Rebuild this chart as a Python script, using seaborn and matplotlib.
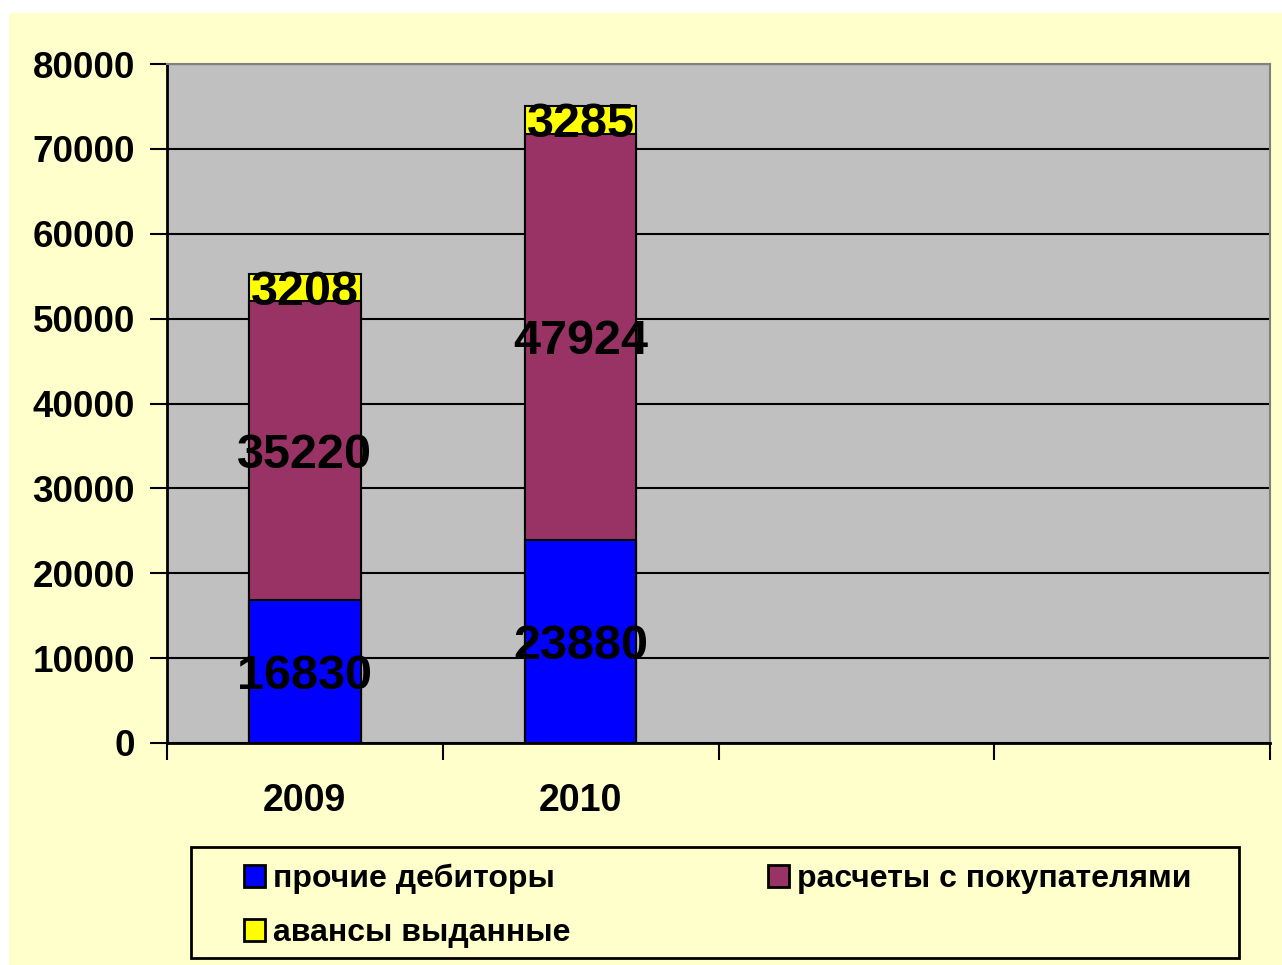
import matplotlib
matplotlib.use("Agg")
import matplotlib.pyplot as plt
import matplotlib.patches as mpatches
import seaborn as sns
import pandas as pd
import numpy as np

# ---- data ----
categories = ["2009", "2010", "c3", "c4"]
tick_labels = ["2009", "2010", "", ""]
series_names = ["прочие дебиторы", "расчеты с покупателями", "авансы выданные"]
prochie = [16830, 23880]
raschety = [35220, 47924]
avansy = [3208, 3285]
years = ["2009", "2010"]
colors = ["#0000FF", "#993366", "#FFFF00"]

sns.set_theme(style="white")
plt.rcParams["font.family"] = ["Liberation Sans", "DejaVu Sans"]
plt.rcParams["font.weight"] = "bold"
plt.rcParams["text.color"] = "black"
plt.rcParams["xtick.color"] = "black"
plt.rcParams["ytick.color"] = "black"

W, H = 1282, 965
fig = plt.figure(figsize=(W / 100, H / 100), dpi=100)
fig.patch.set_facecolor("white")
fig.patches.append(mpatches.Rectangle((9 / W, 0), 1 - 9 / W, 1 - 13 / H,
                                      transform=fig.transFigure, facecolor="#FFFFCC",
                                      edgecolor="none", zorder=-10))
# legend box
fig.patches.append(mpatches.Rectangle((191 / W, 1 - 958 / H), (1239 - 191) / W, (958 - 847) / H,
                                      transform=fig.transFigure, facecolor="none",
                                      edgecolor="black", linewidth=2, zorder=-5))

left, right, top, bottom = 167, 1270, 64, 743
ax = fig.add_axes([left / W, 1 - bottom / H, (right - left) / W, (bottom - top) / H])
ax.set_facecolor("#C0C0C0")

df = pd.DataFrame({"year": years, "p": prochie, "r": raschety, "a": avansy})
df["lvl1"] = df["p"]
df["lvl2"] = df["p"] + df["r"]
df["lvl3"] = df["p"] + df["r"] + df["a"]

for col, c in zip(["lvl3", "lvl2", "lvl1"], colors[::-1]):
    sns.barplot(data=df, x="year", y=col, order=categories, color=c, saturation=1,
                width=0.405, errorbar=None, edgecolor="black", linewidth=1.5, ax=ax, zorder=3)

ax.set_xlim(-0.5, 3.5)
ax.set_ylim(0, 80000)
ax.set_yticks(np.arange(0, 80001, 10000))
ax.set_yticklabels([str(v) for v in range(0, 80001, 10000)], fontsize=26.5, fontweight="bold")
ax.yaxis.grid(True, color="black", linewidth=1.5)
ax.set_axisbelow(True)

# x ticks at category boundaries, labels at centres
ax.set_xticks(np.arange(-0.5, 3.6, 1.0))
ax.set_xticklabels([""] * 5)
ax.set_xticks(np.arange(len(categories)), minor=True)
ax.set_xticklabels(tick_labels, minor=True, fontsize=27, fontweight="bold")
ax.tick_params(axis="x", which="major", direction="out", length=12, width=1.5, color="black", bottom=True)
ax.tick_params(axis="x", which="minor", length=0, pad=29)
ax.tick_params(axis="y", direction="out", length=12, width=1.5, color="black", left=True, pad=11)
ax.set_xlabel("")
ax.set_ylabel("")

for s in ["left", "bottom"]:
    ax.spines[s].set_color("black")
    ax.spines[s].set_linewidth(2)
for s in ["top", "right"]:
    ax.spines[s].set_color("#808080")
    ax.spines[s].set_linewidth(1.5)

# value labels
for i, yr in enumerate(years):
    base = 0
    for vals in (prochie, raschety, avansy):
        v = vals[i]
        ax.annotate(str(v), xy=(i, base + v / 2), xytext=(0, -12.5), textcoords="offset points",
                    ha="center", va="baseline", fontsize=35, fontweight="bold",
                    color="black", zorder=5)
        base += v

# legend
handles = [mpatches.Patch(facecolor=c, edgecolor="black", linewidth=2, label=n)
           for c, n in zip(colors, series_names)]
order = [0, 2, 1]
leg = fig.legend([handles[k] for k in order], [series_names[k] for k in order],
                 loc="upper left", ncol=2,
                 bbox_to_anchor=(244 / W, 1 - 864 / H),
                 prop={"size": 23, "weight": "bold"}, frameon=False,
                 handlelength=0.65, handleheight=0.7, handletextpad=0.25,
                 borderpad=0.0, labelspacing=0.75, borderaxespad=0, columnspacing=6.2)
for t in leg.get_texts():
    t.set_color("black")

fig.savefig("out.png", dpi=100, facecolor=fig.get_facecolor())
